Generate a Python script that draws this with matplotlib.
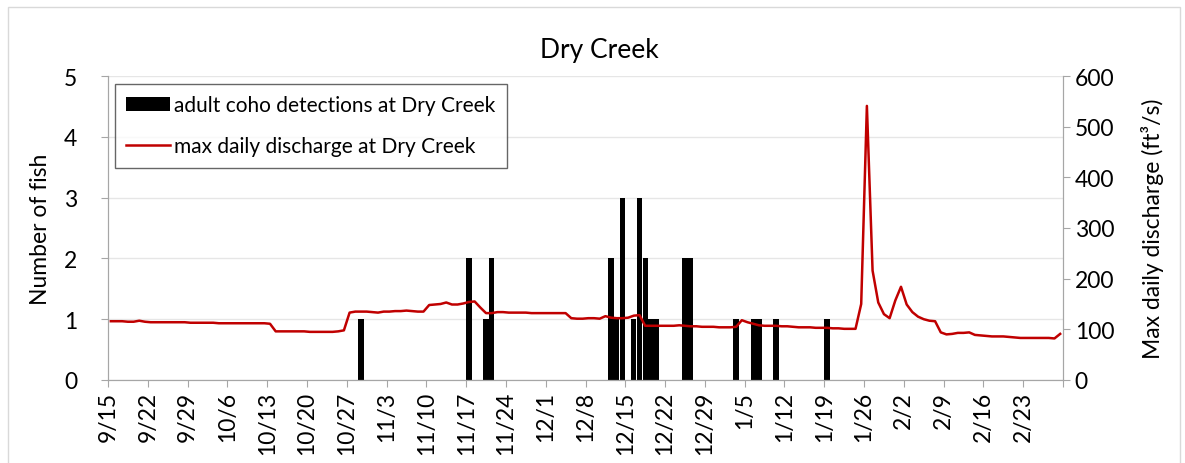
import matplotlib
matplotlib.use("Agg")
import matplotlib.pyplot as plt
import matplotlib.patches as mpatches
import numpy as np
import pandas as pd

plt.rcParams['font.family'] = ['Lato', 'DejaVu Sans']

# season starts 9/15, one value per day up to 3/1
start = pd.Timestamp("2018-09-15")

# max daily discharge at Dry Creek (ft3/s), one row per week
discharge = [
    116, 116, 116, 115, 115, 117, 115,
    114, 114, 114, 114, 114, 114, 114,
    113, 113, 113, 113, 113, 112, 112,
    112, 112, 112, 112, 112, 112, 112,
    111, 96, 96, 96, 96, 96, 96,
    95, 95, 95, 95, 95, 96, 98,
    133, 135, 135, 135, 134, 133, 135,
    135, 136, 136, 137, 136, 135, 135,
    148, 149, 150, 153, 149, 149, 151,
    154, 155, 143, 132, 132, 134, 134,
    133, 133, 133, 133, 132, 132, 132,
    132, 132, 132, 132, 122, 121, 121,
    122, 122, 121, 126, 123, 122, 122,
    123, 127, 128, 107, 107, 107, 107,
    107, 107, 108, 107, 106, 106, 105,
    105, 105, 104, 104, 104, 105, 118,
    114, 111, 108, 107, 107, 107, 106,
    106, 105, 104, 104, 104, 103, 103,
    103, 102, 102, 101, 101, 101, 150,
    541, 216, 153, 130, 122, 157, 184,
    149, 134, 125, 120, 117, 116, 94,
    90, 91, 93, 93, 94, 89, 88,
    87, 86, 86, 86, 85, 84, 83,
    83, 83, 83, 83, 83, 82, 91,
]

# adult coho detections
fish_dates = ["2018-10-29", "2018-11-17", "2018-11-20", "2018-11-21",
              "2018-12-12", "2018-12-13", "2018-12-14", "2018-12-16",
              "2018-12-17", "2018-12-18", "2018-12-19", "2018-12-20",
              "2018-12-25", "2018-12-26", "2019-01-03", "2019-01-06",
              "2019-01-07", "2019-01-10", "2019-01-19"]
fish_counts = [1, 2, 1, 2,
               2, 1, 3, 1,
               3, 2, 1, 1,
               2, 2, 1, 1,
               1, 1, 1]

tick_labels = ["9/15", "9/22", "9/29", "10/6", "10/13", "10/20", "10/27",
               "11/3", "11/10", "11/17", "11/24", "12/1", "12/8", "12/15",
               "12/22", "12/29", "1/5", "1/12", "1/19", "1/26", "2/2", "2/9",
               "2/16", "2/23", ""]

n_days = len(discharge)
days = np.arange(n_days)
fish_idx = [(pd.Timestamp(d) - start).days for d in fish_dates]

grey = '#A6A6A6'
fs = 16.5

fig = plt.figure(figsize=(11.85, 4.64), dpi=100)
ax = fig.add_axes([108 / 1185, 83 / 464, (1063 - 108) / 1185, 304 / 464])
ax2 = ax.twinx()

# chart-area border
fig.patches.append(mpatches.Rectangle((8 / 1185, -0.1), 1172 / 1185, 1.1 - 8 / 464,
                                      transform=fig.transFigure, fill=False,
                                      edgecolor='#D9D9D9', linewidth=1))

bars = ax.bar(fish_idx, fish_counts, width=0.93, color='black', zorder=2,
              label='adult coho detections at Dry Creek')
line, = ax2.plot(days, discharge, color='#C00000', linewidth=1.8,
                 label='max daily discharge at Dry Creek')

ax.set_xlim(-0.5, n_days - 0.5)
ax.set_ylim(0, 5)
ax2.set_ylim(0, 600)
ax.set_yticks(range(6))
ax2.set_yticks(range(0, 601, 100))
ax.set_xticks(np.arange(len(tick_labels)) * 7 - 0.5)
ax.set_xticklabels(tick_labels, rotation=90, fontsize=fs)

ax.grid(axis='y', color='#E6E6E6', linewidth=1, zorder=0)
ax.set_axisbelow(True)

for a in (ax, ax2):
    a.spines['top'].set_visible(False)
    for s in ('left', 'right', 'bottom'):
        a.spines[s].set_color(grey)
    a.tick_params(colors=grey, labelcolor='black', labelsize=fs, length=5)
ax.tick_params(axis='x', pad=3)
ax.tick_params(axis='y', pad=17)

ax.set_ylabel('Number of fish', fontsize=fs)
ax.yaxis.set_label_coords(-0.060, 0.5)
ax2.set_ylabel('Max daily discharge (ft³/s)', fontsize=fs)
ax2.yaxis.set_label_coords(1.082, 0.5)

ax.set_title('Dry Creek', fontsize=19, pad=14, x=0.515)

leg = ax2.legend([bars, line], [bars.get_label(), line.get_label()],
                 loc='upper left', bbox_to_anchor=(0.007, 0.974),
                 borderaxespad=0, fontsize=15, frameon=True, fancybox=False,
                 borderpad=0.55, labelspacing=1.0, handlelength=2.1,
                 handletextpad=0.2)
leg.get_frame().set_edgecolor('#404040')
leg.get_frame().set_linewidth(1)

fig.savefig('out.png', dpi=100)
